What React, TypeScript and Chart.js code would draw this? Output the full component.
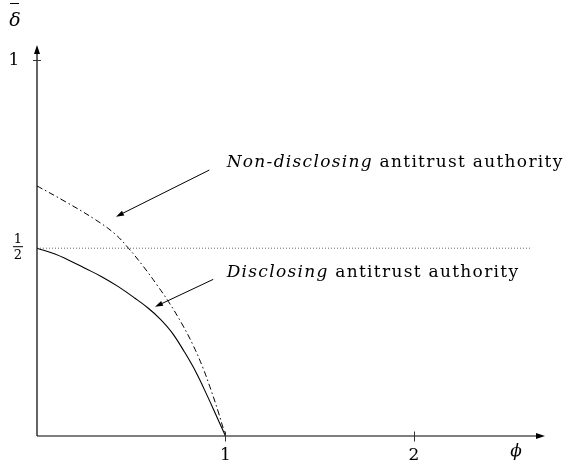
import React, { useEffect, useRef } from "react";
import { Chart, registerables } from "chart.js";

Chart.register(...registerables);

// Disclosing antitrust authority (solid)
const solidX = [0, 0.0955, 0.166, 0.2546, 0.3432, 0.4313, 0.5199, 0.5905, 0.6525, 0.7162, 0.7798, 0.8435, 0.9072, 0.9602, 1];
const solidY = [0.5, 0.4847, 0.4687, 0.4466, 0.4242, 0.3976, 0.3667, 0.3401, 0.3121, 0.2754, 0.2258, 0.1699, 0.1028, 0.0442, 0];

// Non-disclosing antitrust authority (dash-dot)
const dashX = [0, 0.1485, 0.3077, 0.4138, 0.4854, 0.5623, 0.6366, 0.7056, 0.7692, 0.8276, 0.8806, 0.9231, 0.9602, 1];
const dashY = [0.6658, 0.6245, 0.5766, 0.5379, 0.4999, 0.4527, 0.4021, 0.3515, 0.2983, 0.2423, 0.1811, 0.1225, 0.0666, 0];

// Reference line at 1/2
const halfX = [0, 2.626];
const halfY = [0.5, 0.5];

const xTicks = [1, 2];
const xTickLabels = ["1", "2"];
const yTicks = [1];
const yTickLabels = ["1"];

const X_MIN = 0;
const X_MAX = 2.695;
const Y_MIN = 0;
const Y_MAX = 1.041;

const annotItalic = ["Non-disclosing", "Disclosing"];
const annotRest = [" antitrust authority", " antitrust authority"];
const annotX = [1.006, 1.006];
const annotY = [0.717, 0.424];
const arrowFromX = [0.914, 0.935];
const arrowFromY = [0.708, 0.417];
const arrowToX = [0.419, 0.626];
const arrowToY = [0.584, 0.344];

const SERIF = "'DejaVu Serif', 'Liberation Serif', serif";

function arrowHead(ctx: CanvasRenderingContext2D, fx: number, fy: number, tx: number, ty: number, len: number, half: number) {
  const a = Math.atan2(ty - fy, tx - fx);
  const bx = tx - len * Math.cos(a);
  const by = ty - len * Math.sin(a);
  const nx = -Math.sin(a);
  const ny = Math.cos(a);
  ctx.beginPath();
  ctx.moveTo(tx, ty);
  ctx.lineTo(bx + nx * half, by + ny * half);
  ctx.lineTo(bx - nx * half, by - ny * half);
  ctx.closePath();
  ctx.fill();
}

const overlayPlugin = {
  id: "overlay",
  afterDraw(chart: any) {
    const ctx: any = chart.ctx;
    const xs = chart.scales.x;
    const ys = chart.scales.y;
    const area = chart.chartArea;
    const x0 = xs.getPixelForValue(0);
    const y0 = ys.getPixelForValue(0);
    ctx.save();
    ctx.strokeStyle = "#000";
    ctx.fillStyle = "#000";
    ctx.lineWidth = 1.2;
    // axes
    ctx.beginPath();
    ctx.moveTo(x0, y0);
    ctx.lineTo(x0, area.top + 4);
    ctx.moveTo(x0, y0);
    ctx.lineTo(area.right - 4, y0);
    ctx.stroke();
    arrowHead(ctx, x0, y0, x0, area.top, 9, 3);
    arrowHead(ctx, x0, y0, area.right, y0, 9, 3);

    // ticks
    ctx.lineWidth = 1;
    ctx.strokeStyle = "#333";
    ctx.beginPath();
    xTicks.forEach((t) => {
      const px = Math.round(xs.getPixelForValue(t)) + 0.5;
      ctx.moveTo(px, y0 - 4.5);
      ctx.lineTo(px, y0 + 5.5);
    });
    yTicks.forEach((t) => {
      const py = Math.round(ys.getPixelForValue(t)) + 0.5;
      ctx.moveTo(x0 - 4, py);
      ctx.lineTo(x0 + 4, py);
    });
    ctx.stroke();

    // tick labels
    ctx.fillStyle = "#000";
    ctx.font = `17px ${SERIF}`;
    ctx.textAlign = "center";
    ctx.textBaseline = "middle";
    xTicks.forEach((t, i) => {
      ctx.fillText(xTickLabels[i], xs.getPixelForValue(t), y0 + 20);
    });
    yTicks.forEach((t, i) => {
      ctx.fillText(yTickLabels[i], x0 - 23, ys.getPixelForValue(t));
    });

    // 1/2 fraction
    const yh = ys.getPixelForValue(0.5);
    ctx.font = `13px ${SERIF}`;
    ctx.fillText("1", x0 - 19, yh - 9);
    ctx.fillText("2", x0 - 19, yh + 7);
    ctx.lineWidth = 1;
    ctx.strokeStyle = "#000";
    ctx.beginPath();
    ctx.moveTo(x0 - 24, yh - 1.5);
    ctx.lineTo(x0 - 14, yh - 1.5);
    ctx.stroke();

    // axis titles
    ctx.font = `italic 19px ${SERIF}`;
    ctx.fillText("\u03b4", x0 - 22, area.top - 24);
    ctx.beginPath();
    ctx.moveTo(x0 - 27, area.top - 41.5);
    ctx.lineTo(x0 - 18, area.top - 41.5);
    ctx.stroke();
    ctx.font = `italic 17px ${SERIF}`;
    ctx.fillText("\u03d5", area.right - 29, y0 + 16);

    // annotations
    ctx.textAlign = "left";
    ctx.textBaseline = "alphabetic";
    ctx.letterSpacing = "1.3px";
    annotItalic.forEach((it, i) => {
      const px = xs.getPixelForValue(annotX[i]);
      const py = ys.getPixelForValue(annotY[i]);
      ctx.font = `italic 17px ${SERIF}`;
      ctx.fillText(it, px, py);
      const w = ctx.measureText(it).width;
      ctx.font = `17px ${SERIF}`;
      ctx.fillText(annotRest[i], px + w, py);

      const fx = xs.getPixelForValue(arrowFromX[i]);
      const fy = ys.getPixelForValue(arrowFromY[i]);
      const tx = xs.getPixelForValue(arrowToX[i]);
      const ty = ys.getPixelForValue(arrowToY[i]);
      ctx.lineWidth = 1;
      ctx.strokeStyle = "#000";
      const a = Math.atan2(ty - fy, tx - fx);
      ctx.beginPath();
      ctx.moveTo(fx, fy);
      ctx.lineTo(tx - 5 * Math.cos(a), ty - 5 * Math.sin(a));
      ctx.stroke();
      arrowHead(ctx, fx, fy, tx, ty, 8, 2.6);
    });
    ctx.letterSpacing = "0px";
    ctx.restore();
  },
};

export default function App() {
  const ref = useRef<HTMLCanvasElement | null>(null);
  useEffect(() => {
    if (!ref.current) return;
    const toPts = (xs: number[], ys: number[]) => xs.map((x, i) => ({ x, y: ys[i] }));
    const chart = new Chart(ref.current, {
      type: "line",
      data: {
        datasets: [
          {
            label: "1/2",
            data: toPts(halfX, halfY),
            borderColor: "#555",
            borderWidth: 0.9,
            borderDash: [1, 2],
            pointRadius: 0,
            tension: 0,
          },
          {
            label: "Non-disclosing antitrust authority",
            data: toPts(dashX, dashY),
            borderColor: "#000",
            borderWidth: 1,
            borderDash: [6, 3, 1.5, 3],
            pointRadius: 0,
            tension: 0.4,
          },
          {
            label: "Disclosing antitrust authority",
            data: toPts(solidX, solidY),
            borderColor: "#000",
            borderWidth: 1.1,
            pointRadius: 0,
            tension: 0.4,
          },
        ],
      },
      options: {
        responsive: false,
        animation: false,
        layout: { padding: { left: 37, right: 21, top: 45, bottom: 28 } },
        plugins: { legend: { display: false }, tooltip: { enabled: false } },
        scales: {
          x: { type: "linear", min: X_MIN, max: X_MAX, display: false },
          y: { type: "linear", min: Y_MIN, max: Y_MAX, display: false },
        },
      },
      plugins: [overlayPlugin],
    } as any);
    return () => chart.destroy();
  }, []);
  return (
    <div style={{ position: "fixed", left: 0, top: 0, width: 566, height: 464, background: "#fff" }}>
      <canvas ref={ref} width={566} height={464} />
    </div>
  );
}
